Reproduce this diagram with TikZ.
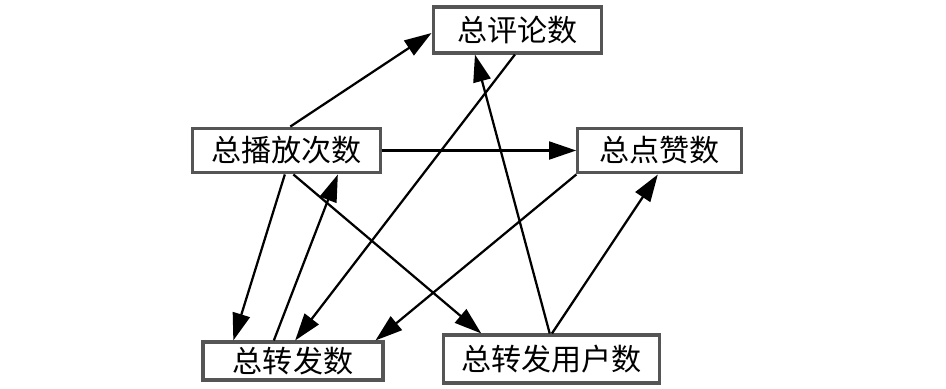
\documentclass[tikz,border=0pt]{standalone}
\usepackage{fontspec}
\newfontfamily\cjk{Noto Sans CJK SC}
\usetikzlibrary{arrows.meta}
\definecolor{boxline}{HTML}{555555}
\tikzset{
  box/.style={draw=boxline, line width=1.1pt, fill=white, inner sep=0pt,
    minimum height=5.6mm, font=\cjk\fontsize{10.7}{12}\selectfont},
  arr/.style={-{Triangle[length=3.4mm, width=2.2mm]}, line width=0.8pt}
}

\begin{document}
\begin{tikzpicture}[x=0.125mm, y=-0.125mm]
  \useasboundingbox (0,0) rectangle (946,388);
  % the five counts
  \node[box, minimum width=21.1mm, minimum height=5.75mm] (pl) at (517.5,30) {总评论数};
  \node[box, minimum width=23.4mm] (bf) at (286.5,150.5) {总播放次数};
  \node[box, minimum width=20.4mm] (dz) at (659.5,150.5) {总点赞数};
  \node[box, minimum width=22.5mm, minimum height=4.75mm] (zf) at (293,361) {总转发数};
  \node[box, minimum width=27.1mm, minimum height=6mm] (zfyh) at (551.5,359) {总转发用户数};
  % influences
  \draw[arr] (bf.81) -- (pl.182);
  \draw[arr, line width=1.1pt] (bf.east) -- (dz.west);
  \draw[arr] (bf.-94) -- (zf.161);
  \draw[arr] (zf.133) -- (bf.-25);
  \draw[arr] (bf.-74) -- (zfyh.160);
  \draw[arr] (pl.-96) -- (zf.84);
  \draw[arr] (zfyh.94) -- (pl.-150);
  \draw[arr] (dz.south west) -- (zf.14);
  \draw[arr] (zfyh.89) -- (dz.-94);
\end{tikzpicture}
\end{document}
